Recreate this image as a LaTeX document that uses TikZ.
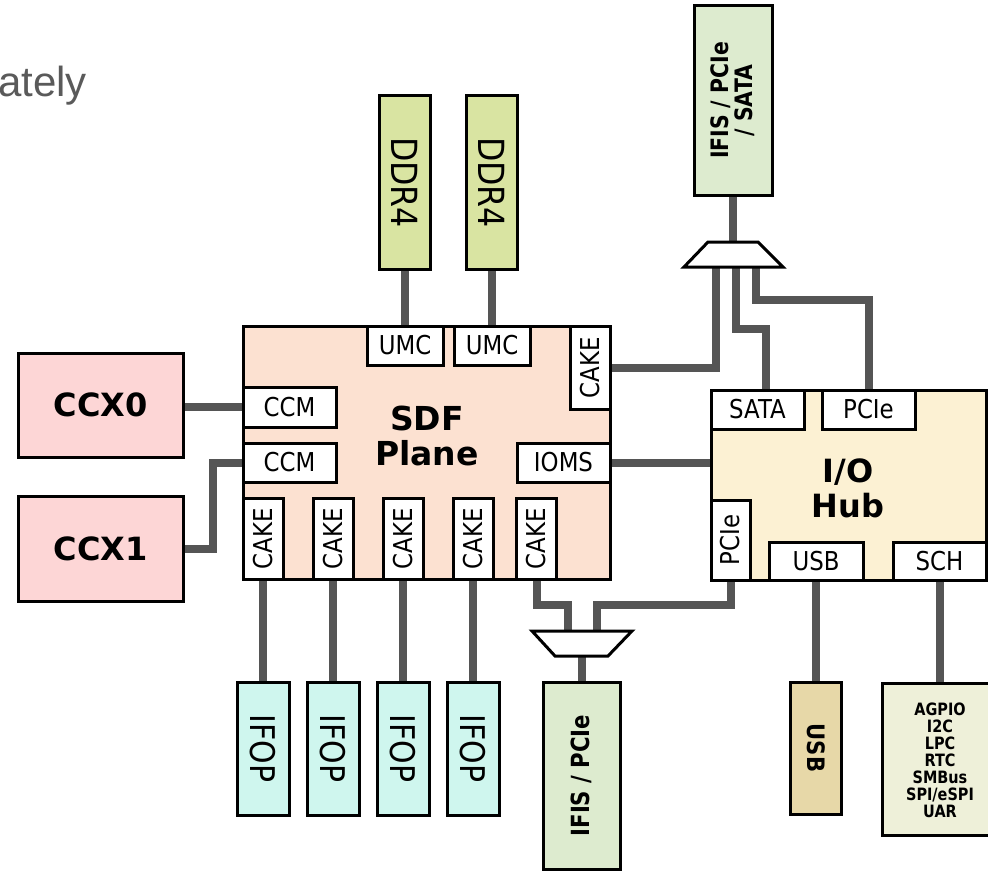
\documentclass[tikz,border=0pt]{standalone}
\usepackage{fontspec}
\setmainfont{DejaVu Sans}
\newfontfamily\labf{DejaVu Sans}[FakeStretch=0.88]
\newfontfamily\labc{DejaVu Sans}[FakeStretch=0.85]
\newfontfamily\arialf{Liberation Sans}
\usetikzlibrary{backgrounds}
\definecolor{sdfc}{HTML}{FCE1D1}
\definecolor{ccxc}{HTML}{FDD6D6}
\definecolor{ddrc}{HTML}{D9E4A2}
\definecolor{ifisc}{HTML}{DDEBCF}
\definecolor{ifopc}{HTML}{CFF6EE}
\definecolor{iohc}{HTML}{FCF1D3}
\definecolor{usbc}{HTML}{E7D8A8}
\definecolor{schc}{HTML}{EEF0D9}
\definecolor{conng}{HTML}{555555}
\definecolor{fragc}{HTML}{5A5A5A}
\tikzset{
  blk/.style={draw=black, line width=3pt, inner sep=0pt, outer sep=0pt},
  sub/.style={blk, fill=white, font=\labf\fontsize{26}{30}\selectfont},
  rl/.style={rotate=90, font=\labf\fontsize{26}{30}\selectfont, inner sep=0pt},
  conn/.style={draw=conng, line width=8pt, line join=miter},
  mux/.style={draw=black, line width=3pt, fill=white, line join=miter},
  big/.style={font=\bfseries\fontsize{32}{35}\selectfont, align=center, inner sep=0pt},
}
\begin{document}
\begin{tikzpicture}[x=1pt,y=-1pt]
\useasboundingbox (0,0) rectangle (988,872);
\clip (0,0) rectangle (988,872);

\node[anchor=base east, font=\arialf\fontsize{42}{46}\selectfont, text=fragc, inner sep=0pt] (frag) at (87,97) {ately};

% CCX
\node[blk, fill=ccxc, minimum width=165, minimum height=104, font=\bfseries\fontsize{32}{36}\selectfont] (ccx0) at (100.5,405) {CCX0};
\node[blk, fill=ccxc, minimum width=165, minimum height=105, font=\bfseries\fontsize{32}{36}\selectfont] (ccx1) at (100.5,548.5) {CCX1};

% SDF plane
\node[blk, fill=sdfc, minimum width=367, minimum height=253] (sdf) at (426.5,452.5) {};
\node[big, font=\bfseries\fontsize{33}{35}\selectfont] (sdft) at (427,436) {SDF\\Plane};
\node[sub, minimum width=76, minimum height=39] (umc1) at (405,345.5) {UMC};
\node[sub, minimum width=76, minimum height=39] (umc2) at (492,345.5) {UMC};
\node[sub, minimum width=40, minimum height=83, label={[rl]center:CAKE}] (caketr) at (590,367.5) {};
\node[sub, minimum width=93, minimum height=40] (ccm1) at (289.5,407) {CCM};
\node[sub, minimum width=93, minimum height=39] (ccm2) at (289.5,462.5) {CCM};
\node[sub, minimum width=93, minimum height=39] (ioms) at (563.5,462.5) {IOMS};
\node[sub, minimum width=40, minimum height=81, label={[rl]center:CAKE}] (cake1) at (263,538.5) {};
\node[sub, minimum width=40, minimum height=81, label={[rl]center:CAKE}] (cake2) at (333,538.5) {};
\node[sub, minimum width=40, minimum height=81, label={[rl]center:CAKE}] (cake3) at (403,538.5) {};
\node[sub, minimum width=40, minimum height=81, label={[rl]center:CAKE}] (cake4) at (473,538.5) {};
\node[sub, minimum width=40, minimum height=81, label={[rl]center:CAKE}] (cake5) at (536.5,538.5) {};

% DDR4
\node[blk, fill=ddrc, minimum width=51, minimum height=173, label={[rl, rotate=180, font=\labf\fontsize{36}{40}\selectfont]center:DDR4}] (ddr1) at (405,182.5) {};
\node[blk, fill=ddrc, minimum width=51, minimum height=173, label={[rl, rotate=180, font=\labf\fontsize{36}{40}\selectfont]center:DDR4}] (ddr2) at (492,182.5) {};

% top IFIS
\node[blk, fill=ifisc, minimum width=78, minimum height=189, label={[rl, align=center, font=\labc\bfseries\fontsize{24}{24}\selectfont]center:IFIS / PCIe\\/ SATA}] (ifistop) at (733,100.5) {};

% I/O hub
\node[blk, fill=iohc, minimum width=275, minimum height=190] (ioh) at (848.5,485) {};
\node[big] (ioht) at (848,488) {I/O\\Hub};
\node[sub, minimum width=93, minimum height=39] (sata) at (757.5,409.5) {SATA};
\node[sub, minimum width=93, minimum height=39] (pcietop) at (868.5,409.5) {PCIe};
\node[sub, minimum width=39, minimum height=80, label={[rl]center:PCIe}] (pcieleft) at (730.5,540) {};
\node[sub, minimum width=94, minimum height=38] (usbin) at (816,561) {USB};
\node[sub, minimum width=93, minimum height=38] (schin) at (939.5,561) {SCH};

% bottom boxes
\node[blk, fill=ifopc, minimum width=52, minimum height=133, label={[rl, rotate=180, font=\labf\fontsize{34}{38}\selectfont]center:IFOP}] (ifop1) at (263,748.5) {};
\node[blk, fill=ifopc, minimum width=52, minimum height=133, label={[rl, rotate=180, font=\labf\fontsize{34}{38}\selectfont]center:IFOP}] (ifop2) at (333,748.5) {};
\node[blk, fill=ifopc, minimum width=52, minimum height=133, label={[rl, rotate=180, font=\labf\fontsize{34}{38}\selectfont]center:IFOP}] (ifop3) at (403,748.5) {};
\node[blk, fill=ifopc, minimum width=52, minimum height=133, label={[rl, rotate=180, font=\labf\fontsize{34}{38}\selectfont]center:IFOP}] (ifop4) at (473,748.5) {};
\node[blk, fill=ifisc, minimum width=77, minimum height=187, label={[rl, font=\labc\bfseries\fontsize{25}{28}\selectfont]center:IFIS / PCIe}] (ifisbot) at (581.5,775.5) {};
\node[blk, fill=usbc, minimum width=51, minimum height=132, label={[rl, rotate=180, font=\labf\bfseries\fontsize{24}{28}\selectfont]center:USB}] (usbbox) at (816,748) {};
\node[blk, fill=schc, minimum width=115, minimum height=152] (schbox) at (939.5,759) {};
\node[font=\labc\bfseries\fontsize{17}{17}\selectfont, align=center, inner sep=0pt] (schlist) at (940,760) {AGPIO\\I2C\\LPC\\RTC\\SMBus\\SPI/eSPI\\UAR};

% muxes
\draw[mux] (708,242) -- (758,242) -- (783,267) -- (684,267) -- cycle;
\draw[mux] (532,631) -- (632,631) -- (608,656) -- (555,656) -- cycle;
\coordinate (mt) at (733,242);
\coordinate (m1) at (716,267);
\coordinate (m2) at (736,267);
\coordinate (m3) at (756,267);
\coordinate (s1) at (766,329);
\coordinate (p1) at (868.5,300);
\coordinate (b1) at (568,631);
\coordinate (b2) at (597,631);
\coordinate (bb) at (581.5,656);
\coordinate (bj1) at (568,605);
\coordinate (bj2) at (597,605);
\coordinate (j1) at (213,500);

\begin{scope}[on background layer]
\draw[conn] (ccx0.east |- ccm1.west) -- (ccm1.west);
\draw[conn] (ccx1.east) -| (j1) |- (ccm2.west);
\draw[conn] (ddr1.south) -- (umc1.north);
\draw[conn] (ddr2.south) -- (umc2.north);
\draw[conn] (ifistop.south) -- (mt);
\draw[conn] (m1) |- (caketr.east);
\draw[conn] (m2) |- (s1) -- (s1 |- sata.north);
\draw[conn] (m3) |- (p1) -- (pcietop.north);
\draw[conn] (ioms.east) -- (ioms.east -| ioh.west);
\draw[conn] (cake1.south) -- (ifop1.north);
\draw[conn] (cake2.south) -- (ifop2.north);
\draw[conn] (cake3.south) -- (ifop3.north);
\draw[conn] (cake4.south) -- (ifop4.north);
\draw[conn] (cake5.south) |- (bj1) -- (b1);
\draw[conn] (pcieleft.south) |- (bj2) -- (b2);
\draw[conn] (bb) -- (ifisbot.north);
\draw[conn] (usbin.south) -- (usbbox.north);
\draw[conn] (schin.south) -- (schbox.north);
\end{scope}
\end{tikzpicture}
\end{document}
